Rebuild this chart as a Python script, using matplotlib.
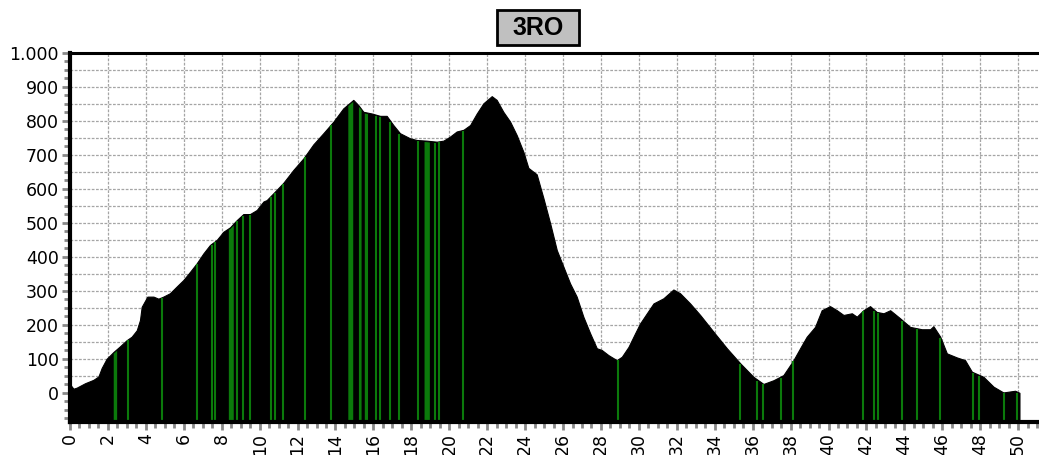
import matplotlib
matplotlib.use("Agg")
import matplotlib.pyplot as plt
import matplotlib.patches as patches
from matplotlib.ticker import MultipleLocator, FuncFormatter
import numpy as np

plt.rcParams["font.family"] = ["DejaVu Sans"]

# profile (km, metres)
km = [0, 0.18, 0.35, 0.79, 1.23, 1.5, 1.67, 1.93, 2.29, 2.64, 2.99, 3.25, 3.52, 3.69, 3.78,
      4.08, 4.4, 4.66, 4.92, 5.27, 5.63, 5.98, 6.33, 6.68, 7.03, 7.38, 7.74, 8.09, 8.44, 8.79,
      9.14, 9.49, 9.85, 10.2, 10.37, 10.72, 11.25, 11.78, 12.31, 12.83, 13.36, 13.89, 14.41,
      14.94, 15.2, 15.47, 15.91, 16.35, 16.7, 17.05, 17.4, 17.93, 18.28, 18.81, 19.34, 19.69,
      20.04, 20.39, 20.75, 21.1, 21.45, 21.8, 22.24, 22.5, 22.85, 23.21, 23.56, 23.91, 24.17,
      24.61, 24.97, 25.32, 25.67, 26.02, 26.37, 26.72, 27.07, 27.43, 27.78, 28.04, 28.39, 28.83,
      29.1, 29.45, 29.8, 30.06, 30.42, 30.77, 31.29, 31.82, 32.17, 32.7, 33.23, 33.93, 34.64,
      35.34, 36.04, 36.57, 37.1, 37.62, 38.15, 38.5, 38.85, 39.29, 39.64, 40.08, 40.44, 40.79,
      41.23, 41.49, 41.84, 42.19, 42.54, 42.9, 43.25, 43.78, 44.3, 44.92, 45.36, 45.53, 45.89,
      46.24, 46.77, 47.2, 47.56, 48.17, 48.7, 49.22, 49.84, 50.07]
elev = [25, 12, 15, 28, 38, 48, 73, 100, 120, 137, 155, 165, 184, 214, 253,
        283, 283, 277, 283, 293, 313, 332, 356, 381, 410, 435, 450, 474, 487, 508,
        526, 526, 538, 563, 567, 587, 618, 656, 690, 731, 764, 798, 837,
        862, 847, 827, 822, 815, 815, 788, 764, 749, 744, 742, 739, 742,
        754, 769, 774, 788, 822, 852, 873, 862, 827, 798, 758, 709, 662,
        643, 572, 499, 420, 371, 322, 283, 224, 175, 131, 126, 111, 96,
        106, 135, 175, 204, 234, 263, 278, 304, 293, 263, 229, 180, 131,
        87, 47, 26, 37, 52, 96, 131, 165, 194, 243, 255, 243, 229,
        234, 224, 243, 255, 238, 234, 243, 219, 194, 187, 187, 196, 165,
        116, 104, 96, 62, 47, 18, 1, 6, 0]

# green markers (start km, end km); equal values = thin line
green_start = [2.28, 3.08, 4.87, 6.68, 7.47, 7.65, 8.35, 8.79, 9.11, 9.49, 10.58, 10.81,
               11.25, 12.4, 13.76, 14.65, 15.21, 15.52, 16.12, 16.35, 16.88, 17.37, 18.37,
               18.67, 19.25, 19.46, 20.71, 28.92, 35.34, 36.25, 36.53, 37.48, 38.15, 41.84,
               42.41, 42.63, 43.86, 44.66, 45.89, 47.61, 47.91, 49.26, 49.93]
green_end = [2.46, 3.08, 4.87, 6.68, 7.47, 7.65, 8.61, 8.79, 9.11, 9.49, 10.58, 10.81,
             11.25, 12.4, 13.76, 14.91, 15.35, 15.69, 16.12, 16.35, 16.88, 17.37, 18.37,
             18.95, 19.25, 19.46, 20.71, 28.92, 35.34, 36.25, 36.53, 37.48, 38.15, 41.84,
             42.41, 42.63, 43.86, 44.66, 45.89, 47.61, 47.91, 49.26, 49.93]

title = "3RO"
ybot, ytop = -86, 1000
green = "#0b7a0b"

fig = plt.figure(figsize=(10.39, 4.55), dpi=100)
ax = fig.add_axes([70 / 1039, 1 - 422 / 455, 1 - 70 / 1039, 369 / 455])

# grid
for yy in np.arange(50, 1000, 50):
    ax.axhline(yy, color="#a5a5a5", lw=0.9, ls=(0, (2.2, 1.2)), zorder=0)
for xx in np.arange(2, 52, 2):
    ax.axvline(xx, color="#a5a5a5", lw=0.9, ls=(0, (2.2, 1.2)), zorder=0)

ax.fill_between(km, elev, ybot, color="black", lw=0.8, edgecolor="black", zorder=2)

for a, b in zip(green_start, green_end):
    if b - a < 0.05:
        top = np.interp(a, km, elev)
        ax.vlines(a, ybot, top - 3, color=green, lw=1.5, zorder=3)
    else:
        xs = np.linspace(a, b, 6)
        ax.fill_between(xs, np.interp(xs, km, elev) - 3, ybot, color=green, lw=0, zorder=3)

ax.set_xlim(0, 51.1)
ax.set_ylim(ybot, ytop)

ax.xaxis.set_major_locator(MultipleLocator(2))
ax.xaxis.set_minor_locator(MultipleLocator(0.5))
ax.yaxis.set_major_locator(MultipleLocator(100))
ax.yaxis.set_minor_locator(MultipleLocator(25))
ax.yaxis.set_major_formatter(FuncFormatter(lambda v, p: f"{v:,.0f}".replace(",", ".")))

ax.tick_params(axis="both", which="major", length=6, width=2, color="#8a8a8a",
               labelsize=12.5, pad=2)
ax.tick_params(axis="both", which="minor", length=4, width=2, color="#8a8a8a")
plt.setp(ax.get_xticklabels(), rotation=90)

ax.spines["right"].set_visible(False)
ax.spines["left"].set_linewidth(3)
ax.spines["top"].set_linewidth(2.2)
ax.spines["bottom"].set_linewidth(3)
for s in ("left", "top", "bottom"):
    ax.spines[s].set_color("black")
    ax.spines[s].set_zorder(5)

# title box
fig.patches.append(patches.Rectangle((497 / 1039, 1 - 45 / 455), 82 / 1039, 35 / 455,
                                     transform=fig.transFigure, facecolor="#c0c0c0",
                                     edgecolor="black", lw=2))
fig.text(538 / 1039, 1 - 28 / 455, title, ha="center", va="center",
         fontsize=18, fontweight="bold", family=["Liberation Sans", "DejaVu Sans"])

fig.savefig("out.png", dpi=100)
